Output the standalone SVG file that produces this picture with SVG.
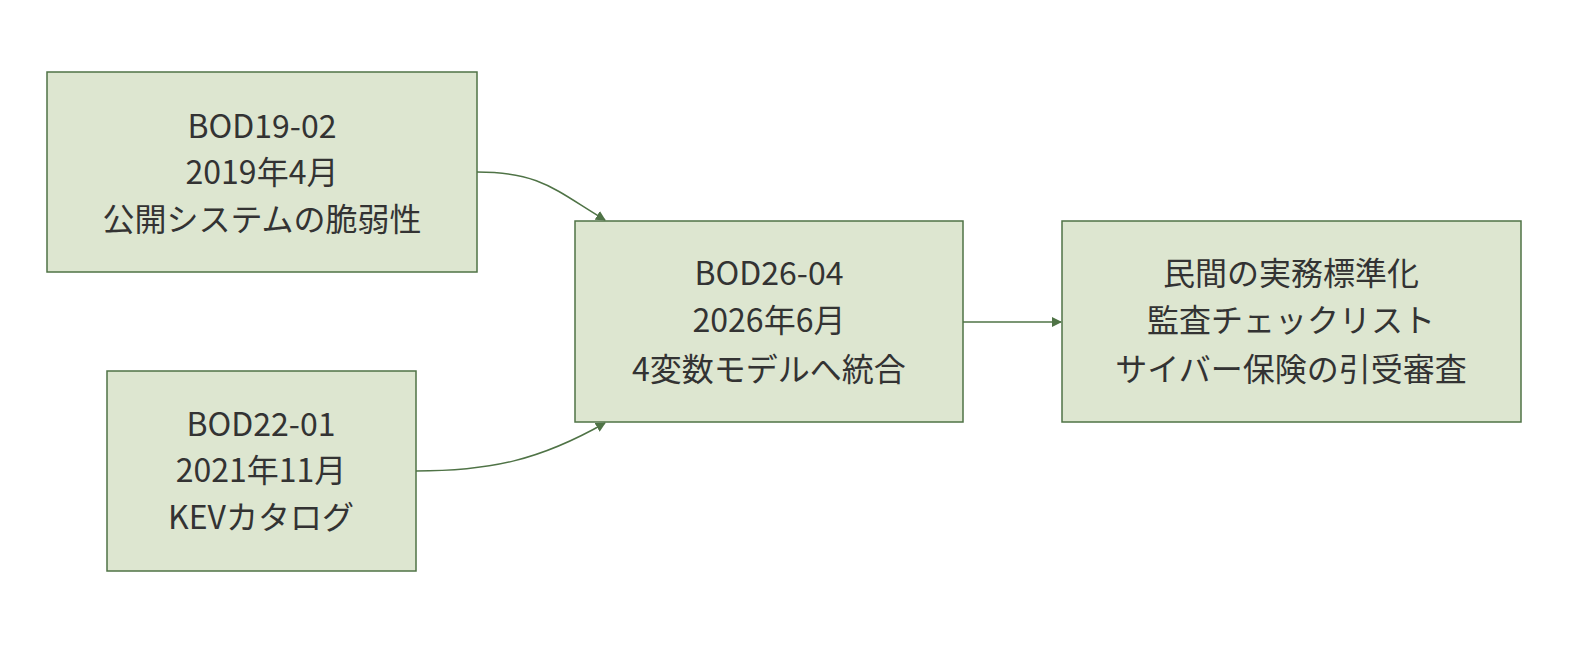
<svg xmlns="http://www.w3.org/2000/svg" width="1594" height="660" viewBox="0 0 1594 660">
<style>
.n{fill:#dde6d0;stroke:#4f7346;stroke-width:1.5}
.t{font-family:"Noto Sans CJK JP","Noto Sans",sans-serif;font-size:32px;fill:#333;text-anchor:middle}
.c{fill:none;stroke:#4f7346;stroke-width:1.5}
</style>
<defs><marker id="a" viewBox="0 0 10 10" refX="9" refY="5" markerWidth="10" markerHeight="10" markerUnits="userSpaceOnUse" orient="auto"><path d="M0,0L10,5L0,10z" fill="#4f7346"/></marker></defs>
<rect width="1594" height="660" fill="#fff"/>
<g id="connectors">
<path class="c" d="M477,172 C540,172 555,190 605,220" marker-end="url(#a)"/>
<path class="c" d="M416,471 C490,471 540,460 605,423" marker-end="url(#a)"/>
<path class="c" d="M963,322 L1061,322" marker-end="url(#a)"/>
</g>
<g id="n1"><rect class="n" x="47" y="72" width="430" height="200"/>
<text class="t" x="262" y="138">BOD19-02</text><text class="t" x="262" y="184">2019年4月</text><text class="t" x="262" y="231">公開システムの脆弱性</text></g>
<g id="n2"><rect class="n" x="107" y="371" width="309" height="200"/>
<text class="t" x="261" y="436">BOD22-01</text><text class="t" x="261" y="482">2021年11月</text><text class="t" x="261" y="529">KEVカタログ</text></g>
<g id="n3"><rect class="n" x="575" y="221" width="388" height="201"/>
<text class="t" x="769" y="285">BOD26-04</text><text class="t" x="769" y="332">2026年6月</text><text class="t" x="769" y="381">4変数モデルへ統合</text></g>
<g id="n4"><rect class="n" x="1062" y="221" width="459" height="201"/>
<text class="t" x="1291" y="285">民間の実務標準化</text><text class="t" x="1291" y="332">監査チェックリスト</text><text class="t" x="1291" y="381">サイバー保険の引受審査</text></g>
</svg>
